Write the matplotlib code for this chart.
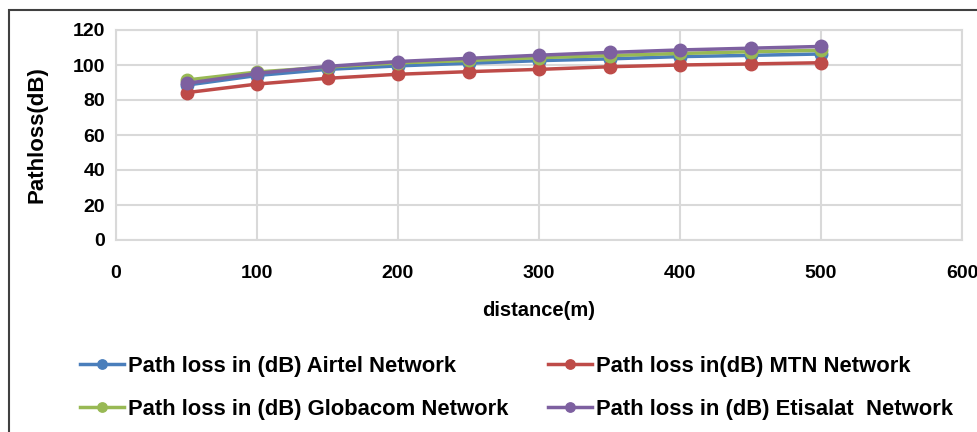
import matplotlib.pyplot as plt
from matplotlib.patches import Rectangle

plt.rcParams["font.family"] = ["Liberation Sans Narrow", "Liberation Sans", "DejaVu Sans"]

distance = [50, 100, 150, 200, 250, 300, 350, 400, 450, 500]
airtel = [88.5, 94.0, 97.5, 99.5, 101.0, 102.5, 103.5, 104.8, 105.5, 106.3]
mtn = [84.2, 89.1, 92.4, 94.7, 96.2, 97.5, 99.0, 100.0, 100.6, 101.3]
globacom = [91.4, 96.0, 98.8, 101.2, 102.6, 104.2, 105.4, 106.6, 107.6, 108.4]
etisalat = [89.5, 95.2, 99.2, 102.0, 103.8, 105.6, 107.2, 108.6, 109.6, 110.6]

labels = ["Path loss in (dB) Airtel Network", "Path loss in(dB) MTN Network",
          "Path loss in (dB) Globacom Network", "Path loss in (dB) Etisalat  Network"]
colors = ["#4a7ebb", "#be4b48", "#98b954", "#7d60a0"]
series = [airtel, mtn, globacom, etisalat]

fig = plt.figure(figsize=(9.78, 4.32), dpi=100)
ax = fig.add_axes([116 / 978, 1 - 240 / 432, 846 / 978, 210 / 432])

lines = []
for vals, lab, col in zip(series, labels, colors):
    ln, = ax.plot(distance, vals, color=col, lw=2.5, marker="o", ms=9,
                  label=lab, zorder=3)
    lines.append(ln)

ax.set_xlim(0, 600)
ax.set_ylim(0, 120)
ax.set_xticks(range(0, 601, 100))
ax.set_yticks(range(0, 121, 20))
ax.grid(True, color="#d9d9d9", lw=1.5)
ax.set_axisbelow(True)
for sp in ax.spines.values():
    sp.set_color("#d9d9d9")
    sp.set_linewidth(1.5)
ax.tick_params(length=0, labelsize=14, pad=8)
ax.tick_params(axis="x", pad=18)
for t in ax.get_xticklabels() + ax.get_yticklabels():
    t.set_fontweight("bold")

ax.set_xlabel("distance(m)", fontsize=14.5, fontweight="bold", labelpad=14)
ax.set_ylabel("Pathloss(dB)", fontsize=16, fontweight="bold", labelpad=18)

# legend fills row by row: Airtel, MTN / Globacom, Etisalat
order = [0, 2, 1, 3]
fig.legend(handles=[lines[i] for i in order], loc="upper left",
           bbox_to_anchor=(60 / 978, 1 - 336 / 432),
           ncol=2, frameon=False, fontsize=15.8, handlelength=2.0, handletextpad=0.2,
           columnspacing=1.8, labelspacing=1.0, markerscale=0.75)
for t in fig.legends[0].get_texts():
    t.set_fontweight("bold")

# outer frame around the whole chart
fig.patches.append(Rectangle((9 / 978, -0.1), 1.1, 1 - 10 / 432 + 0.1,
                             transform=fig.transFigure, fill=False,
                             edgecolor="#404040", lw=1.5))

fig.savefig("out.png", dpi=100)
